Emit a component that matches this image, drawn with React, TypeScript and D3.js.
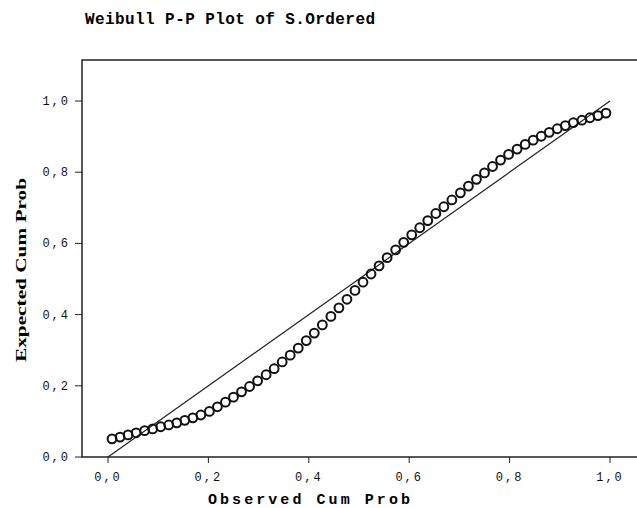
import React, { useEffect, useRef } from "react";
import * as d3 from "d3";

// observed cumulative probability (x) and expected Weibull cum prob (y)
const observed = [
  0.008, 0.024, 0.04, 0.056, 0.073, 0.089, 0.105, 0.121, 0.137, 0.153, 0.169, 0.185, 0.202, 0.218,
  0.234, 0.25, 0.266, 0.282, 0.298, 0.315, 0.331, 0.347, 0.363, 0.379, 0.395, 0.411, 0.427, 0.444,
  0.46, 0.476, 0.492, 0.508, 0.524, 0.54, 0.556, 0.573, 0.589, 0.605, 0.621, 0.637, 0.653, 0.669,
  0.685, 0.702, 0.718, 0.734, 0.75, 0.766, 0.782, 0.798, 0.815, 0.831, 0.847, 0.863, 0.879, 0.895,
  0.911, 0.927, 0.944, 0.96, 0.976, 0.992,
];
const expected = [
  0.051, 0.056, 0.062, 0.068, 0.074, 0.079, 0.085, 0.09, 0.096, 0.103, 0.11, 0.118, 0.128, 0.141,
  0.154, 0.168, 0.183, 0.198, 0.214, 0.231, 0.248, 0.267, 0.286, 0.306, 0.327, 0.348, 0.371, 0.395,
  0.419, 0.443, 0.468, 0.491, 0.514, 0.537, 0.56, 0.582, 0.603, 0.624, 0.644, 0.664, 0.684, 0.703,
  0.722, 0.742, 0.761, 0.78, 0.798, 0.816, 0.834, 0.85, 0.865, 0.878, 0.89, 0.901, 0.912, 0.922,
  0.931, 0.939, 0.946, 0.953, 0.959, 0.966,
];
const tickValues = [0, 0.2, 0.4, 0.6, 0.8, 1.0];
const tickLabels = ["0,0", "0,2", "0,4", "0,6", "0,8", "1,0"];
const refLine = [0, 1];

const W = 637;
const H = 508;

const App: React.FC = () => {
  const ref = useRef<SVGSVGElement>(null);

  useEffect(() => {
    if (!ref.current) return;
    const svg = d3.select(ref.current);
    svg.selectAll("*").remove();

    const x = d3.scaleLinear().domain([0, 1]).range([108, 610]);
    const y = d3.scaleLinear().domain([0, 1]).range([457, 101]);

    const frameL = 82;
    const frameT = 60;
    const frameB = 457;

    svg.append("rect").attr("width", W).attr("height", H).attr("fill", "#fff");

    // title
    svg
      .append("text")
      .attr("x", 85)
      .attr("y", 24)
      .attr("font-family", "Liberation Mono, monospace")
      .attr("font-weight", "bold")
      .attr("font-size", 16)
      .attr("textLength", 290)
      .attr("lengthAdjust", "spacing")
      .text("Weibull P-P Plot of S.Ordered");

    // frame (open on the right)
    svg
      .append("path")
      .attr("d", `M${W},${frameT}H${frameL}V${frameB}H${W}`)
      .attr("fill", "none")
      .attr("stroke", "#222")
      .attr("stroke-width", 1.5);

    // y ticks
    const yt = svg.append("g");
    tickValues.forEach((v, i) => {
      yt.append("line")
        .attr("x1", 75)
        .attr("x2", frameL)
        .attr("y1", y(v))
        .attr("y2", y(v))
        .attr("stroke", "#222")
        .attr("stroke-width", 1);
      yt.append("text")
        .attr("x", 70)
        .attr("y", y(v) + 4)
        .attr("text-anchor", "end")
        .attr("font-family", "Liberation Mono, monospace")
        .attr("font-size", 12)
        .attr("letter-spacing", 2)
        .attr("fill", "#111")
        .text(tickLabels[i]);
    });

    // x ticks
    const xt = svg.append("g");
    tickValues.forEach((v, i) => {
      xt.append("line")
        .attr("x1", x(v))
        .attr("x2", x(v))
        .attr("y1", frameB)
        .attr("y2", frameB + 6)
        .attr("stroke", "#222")
        .attr("stroke-width", 1);
      xt.append("text")
        .attr("x", x(v))
        .attr("y", 481)
        .attr("text-anchor", "middle")
        .attr("font-family", "Liberation Mono, monospace")
        .attr("font-size", 12)
        .attr("letter-spacing", 2)
        .attr("fill", "#111")
        .text(tickLabels[i]);
    });

    // axis titles
    svg
      .append("text")
      .attr("x", 208)
      .attr("y", 504)
      .attr("font-family", "Liberation Mono, monospace")
      .attr("font-weight", "bold")
      .attr("font-size", 15)
      .attr("textLength", 202)
      .attr("lengthAdjust", "spacing")
      .text("Observed Cum Prob");

    svg
      .append("text")
      .attr("transform", `translate(26,270) rotate(-90)`)
      .attr("text-anchor", "middle")
      .attr("font-family", "Liberation Serif, serif")
      .attr("font-weight", "bold")
      .attr("font-size", 15)
      .attr("textLength", 184)
      .attr("lengthAdjust", "spacingAndGlyphs")
      .text("Expected Cum Prob");

    // reference diagonal
    svg
      .append("line")
      .attr("x1", x(refLine[0]))
      .attr("y1", y(refLine[0]))
      .attr("x2", x(refLine[1]))
      .attr("y2", y(refLine[1]))
      .attr("stroke", "#222")
      .attr("stroke-width", 1.2);

    // points
    svg
      .append("g")
      .selectAll("circle")
      .data(observed.map((o, i) => [o, expected[i]]))
      .enter()
      .append("circle")
      .attr("cx", (d) => x(d[0]))
      .attr("cy", (d) => y(d[1]))
      .attr("r", 4.4)
      .attr("fill", "none")
      .attr("stroke", "#111")
      .attr("stroke-width", 2);
  }, []);

  return (
    <svg
      ref={ref}
      width={W}
      height={H}
      style={{ position: "absolute", left: 0, top: 0, display: "block" }}
    />
  );
};

export default App;
